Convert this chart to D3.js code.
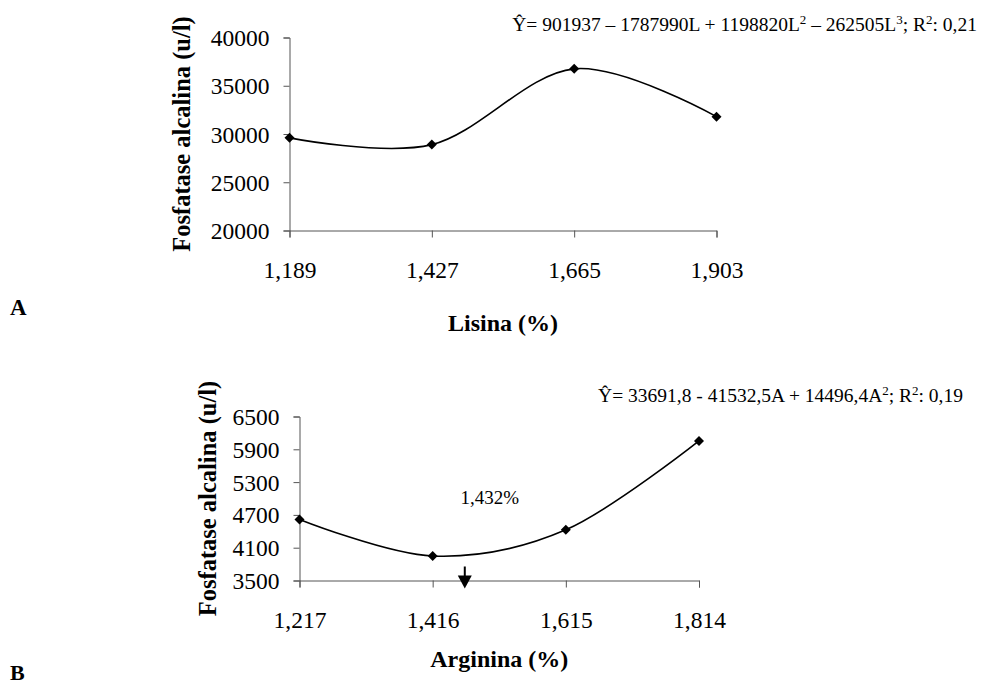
<!DOCTYPE html>
<html>
<head>
<meta charset="utf-8">
<script src="https://cdn.jsdelivr.net/npm/d3@7"></script>
<style>
  body { margin: 0; background: #fff; }
  text { font-family: "Liberation Serif", "Times New Roman", serif; fill: #000; }
</style>
</head>
<body>
<div id="chart"></div>
<script>
(function(){

// chart A - lisina
var lisina = [1.189, 1.427, 1.665, 1.903];
var lisinaLabels = ["1,189", "1,427", "1,665", "1,903"];
var fosfA = [29600, 28900, 36750, 31800];
var yTicksA = [20000, 25000, 30000, 35000, 40000];

// chart B - arginina
var arginina = [1.217, 1.416, 1.615, 1.814];
var argininaLabels = ["1,217", "1,416", "1,615", "1,814"];
var fosfB = [4617, 3948, 4427, 6053];
var yTicksB = [3500, 4100, 4700, 5300, 5900, 6500];
var arrowB = [1.464];   // position of the arrow under the minimum

var width = 988, height = 685;

var svg = d3.select("#chart")
  .append("svg")
    .attr("width", width)
    .attr("height", height);

function drawPanel(o) {
  var x = d3.scaleLinear()
            .domain([o.xs[0], o.xs[o.xs.length - 1]])
            .range([o.left, o.right]);
  var y = d3.scaleLinear()
            .domain([o.yTicks[0], o.yTicks[o.yTicks.length - 1]])
            .range([o.bottom, o.top]);

  var g = svg.append("g");

  var xAxis = g.append("g")
     .attr("transform", "translate(0," + o.bottom + ")")
     .call(d3.axisBottom(x).tickValues(o.xs).tickSize(7)
             .tickFormat(function(d, i) { return o.xLabels[i]; }).tickPadding(24));
  var yAxis = g.append("g")
     .attr("transform", "translate(" + o.left + ",0)")
     .call(d3.axisLeft(y).tickValues(o.yTicks).tickSize(6)
             .tickFormat(function(d) { return d; }).tickPadding(14));

  [xAxis, yAxis].forEach(function(a) {
    a.select(".domain").attr("stroke", "#555");
    a.selectAll(".tick line").attr("stroke", "#555");
    a.selectAll(".tick text")
      .attr("font-family", "Liberation Serif")
      .attr("font-size", "23.5px")
      .attr("fill", "#000");
  });
  yAxis.selectAll(".tick text").attr("dy", "0.34em");

  var pts = o.xs.map(function(d, i) { return [x(d), y(o.ys[i])]; });

  g.append("path")
    .attr("d", d3.line().curve(d3.curveCardinal.tension(0))(pts))
    .attr("fill", "none")
    .attr("stroke", "#000")
    .attr("stroke-width", 1.6);

  g.selectAll("path.pt")
    .data(pts).enter()
    .append("path")
      .attr("class", "pt")
      .attr("d", d3.symbol(d3.symbolSquare, 50))
      .attr("transform", function(d) {
        return "translate(" + d[0] + "," + d[1] + ") rotate(45)";
      })
      .attr("fill", "#000");

  // y axis title
  g.append("text")
    .attr("transform", "translate(" + (o.left - o.yTitleOff) + "," + ((o.top + o.bottom) / 2) + ") rotate(-90)")
    .attr("text-anchor", "middle")
    .attr("font-size", "24.5px")
    .attr("font-weight", "bold")
    .text("Fosfatase alcalina (u/l)");

  // x axis title
  g.append("text")
    .attr("x", (o.left + o.right) / 2)
    .attr("y", o.bottom + o.xTitleOff)
    .attr("text-anchor", "middle")
    .attr("font-size", "24px")
    .attr("font-weight", "bold")
    .text(o.xTitle);

  // equation
  var eq = g.append("text")
    .attr("x", o.eqX)
    .attr("y", o.eqY)
    .attr("text-anchor", "end")
    .attr("font-size", "19.5px");
  o.eq.forEach(function(part) {
    var t = eq.append("tspan").text(part[0]);
    if (part[1]) t.attr("baseline-shift", "super").attr("font-size", "13px");
  });

  return {x: x, y: y, g: g};
}

var a = drawPanel({
  xs: lisina, xLabels: lisinaLabels, ys: fosfA, yTicks: yTicksA,
  left: 289.5, right: 716.5, top: 37.5, bottom: 230.5,
  yTitleOff: 100, xTitleOff: 100, xTitle: "Lisina (%)",
  eqX: 977, eqY: 31,
  eq: [["Ŷ= 901937 – 1787990L + 1198820L"], ["2", true], [" – 262505L"], ["3", true],
       ["; R"], ["2", true], [": 0,21"]]
});

var b = drawPanel({
  xs: arginina, xLabels: argininaLabels, ys: fosfB, yTicks: yTicksB,
  left: 299.5, right: 699, top: 416.5, bottom: 580.5,
  yTitleOff: 84, xTitleOff: 86, xTitle: "Arginina (%)",
  eqX: 963, eqY: 402,
  eq: [["Ŷ= 33691,8 - 41532,5A + 14496,4A"], ["2", true], ["; R"], ["2", true], [": 0,19"]]
});

// arrow marking the minimum
var ax = b.x(arrowB[0]);
b.g.append("line")
  .attr("x1", ax).attr("x2", ax)
  .attr("y1", b.y(3500) - 14).attr("y2", b.y(3500) - 4)
  .attr("stroke", "#000").attr("stroke-width", 2);
b.g.append("path")
  .attr("d", d3.line()([[ax - 7, b.y(3500) - 5], [ax + 7, b.y(3500) - 5], [ax, b.y(3500) + 8]]) + "Z")
  .attr("fill", "#000");
b.g.append("text")
  .attr("x", ax + 25)
  .attr("y", b.y(3500) - 77)
  .attr("text-anchor", "middle")
  .attr("font-size", "19px")
  .text("1,432%");

// panel letters
svg.append("text").attr("x", 10).attr("y", 315)
  .attr("font-size", "23px").attr("font-weight", "bold").text("A");
svg.append("text").attr("x", 10).attr("y", 680)
  .attr("font-size", "22px").attr("font-weight", "bold").text("B");

})()
</script>
</body>
</html>
